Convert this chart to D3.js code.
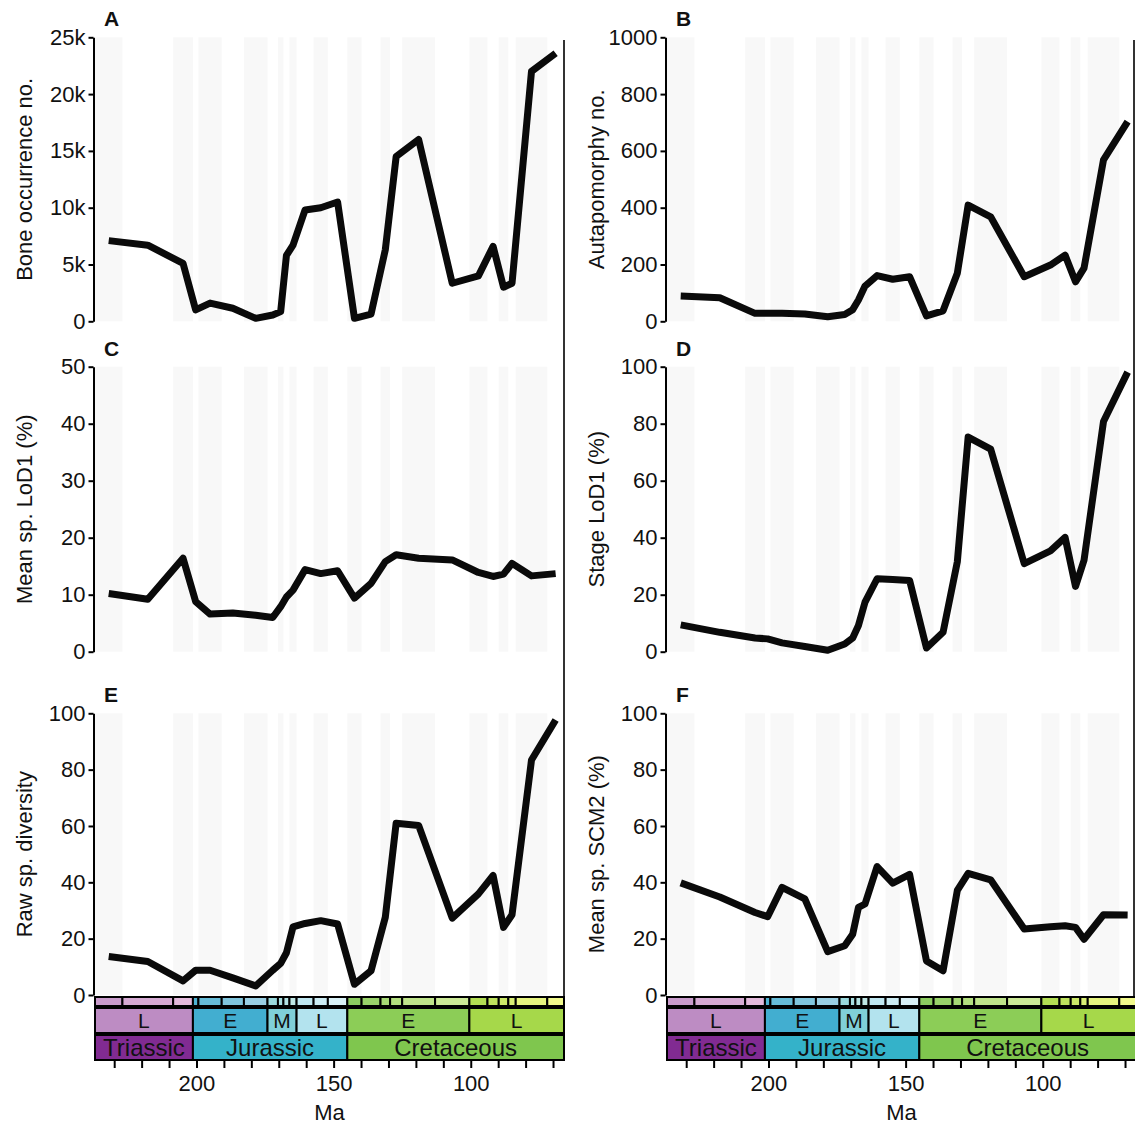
<!DOCTYPE html>
<html>
<head>
<meta charset="utf-8">
<script src="https://cdn.jsdelivr.net/npm/d3@7"></script>
<style>
  body { margin: 0; background: #fff; }
  text { font-family: "Liberation Sans", Arial, sans-serif; fill: #111; }
</style>
</head>
<body>
<svg id="fig" width="1135" height="1126"></svg>
<script>
// stages, Late Triassic to end Cretaceous (Ma, older boundary first)
var stageNames = ["Carnian","Norian","Rhaetian","Hettangian","Sinemurian","Pliensbachian","Toarcian",
  "Aalenian","Bajocian","Bathonian","Callovian","Oxfordian","Kimmeridgian","Tithonian",
  "Berriasian","Valanginian","Hauterivian","Barremian","Aptian","Albian",
  "Cenomanian","Turonian","Coniacian","Santonian","Campanian","Maastrichtian"];
var stageBounds = [237, 227, 208.5, 201.3, 199.3, 190.8, 182.7, 174.1, 170.3, 168.3, 166.1, 163.5,
  157.3, 152.1, 145, 139.8, 132.9, 129.4, 125, 113, 100.5, 93.9, 89.8, 86.3, 83.6, 72.1, 66];
var stageColors = ["#C99BCB","#D6AAD3","#E3B9DB","#4EB3D3","#67BCD8","#80C5DD","#99CEE3",
  "#9AD9DD","#A6DDE0","#B3E2E3","#BFE7E5","#BFE7F1","#CCECF4","#D9F1F7",
  "#8CCD60","#99D36A","#A6D975","#B3DF7F","#BFE48A","#CCEA97",
  "#B3DE53","#BFE35D","#CCE968","#D9EF74","#E6F47F","#F2FA8C"];

var epochNames = ["L","E","M","L","E","L"];
var epochBounds = [237, 201.3, 174.1, 163.5, 145, 100.5, 66];
var epochColors = ["#BD8CC3","#42AED0","#80CFD8","#B3E3EE","#8CCD57","#A6D84A"];

var periodNames = ["Triassic","Jurassic","Cretaceous"];
var periodBounds = [237, 201.3, 145, 66];
var periodColors = ["#812B92","#34B2C9","#7FC64E"];

var maTicks = [230, 220, 210, 200, 190, 180, 170, 160, 150, 140, 130, 120, 110, 100, 90, 80, 70];
var maLabels = [200, 150, 100];

// one value per stage (plotted at stage midpoint)
var boneOccurrences = [7100, 6700, 5100, 1000, 1600, 1150, 260, 550, 850, 5800, 6700, 9800, 10000, 10500,
  260, 640, 6300, 14500, 16000, 3350, 4000, 6600, 3000, 3350, 22000, 23600];
var autapomorphies = [89, 83, 28, 28, 28, 26, 16, 24, 41, 75, 124, 161, 148, 157,
  19, 37, 169, 409, 368, 157, 198, 233, 139, 187, 568, 703];
var meanSpLoD1 = [10.2, 9.2, 16.4, 8.8, 6.6, 6.8, 6.4, 6.0, 7.9, 9.6, 10.8, 14.4, 13.7, 14.2,
  9.4, 12.0, 15.8, 17.0, 16.4, 16.1, 13.9, 13.2, 13.6, 15.5, 13.3, 13.7];
var stageLoD1 = [9.4, 6.8, 4.8, 4.5, 3.1, 1.8, 0.5, 2.7, 4.8, 9.2, 17.4, 25.6, 25.3, 25.0,
  1.3, 6.8, 31.5, 75.3, 71.1, 30.9, 35.4, 40.1, 22.9, 32.1, 80.8, 98.1];
var rawSpDiversity = [13.7, 11.9, 5.0, 8.8, 8.8, 6.1, 3.2, 8.8, 11.2, 15.0, 24.2, 25.4, 26.4, 25.2,
  3.8, 8.6, 27.6, 61.0, 60.2, 27.3, 35.9, 42.4, 24.0, 28.5, 83.4, 97.6];
var meanSpSCM2 = [39.8, 34.8, 29.3, 27.8, 38.2, 34.1, 15.4, 17.5, 21.6, 31.1, 32.3, 45.6, 39.7, 42.8,
  12.1, 8.6, 37.1, 43.2, 40.9, 23.4, 24.2, 24.6, 24.0, 19.8, 28.5, 28.4];

var stageMid = stageNames.map(function(d, i) { return (stageBounds[i] + stageBounds[i + 1]) / 2; });

var svg = d3.select("#fig");

var cols = [{x0: 95, x1: 564, border: 564}, {x0: 667, x1: 1136, border: 1134}];
var rows = [{top: 37.3, bottom: 321.3}, {top: 366.7, bottom: 651.7}, {top: 713.3, bottom: 995}];

var kFormat = function(d) { return d === 0 ? "0" : (d / 1000) + "k"; };

var panels = [
  {letter: "A", title: "Bone occurrence no.", values: boneOccurrences, max: 25000, step: 5000, fmt: kFormat, col: 0, row: 0},
  {letter: "B", title: "Autapomorphy no.", values: autapomorphies, max: 1000, step: 200, col: 1, row: 0},
  {letter: "C", title: "Mean sp. LoD1 (%)", values: meanSpLoD1, max: 50, step: 10, col: 0, row: 1},
  {letter: "D", title: "Stage LoD1 (%)", values: stageLoD1, max: 100, step: 20, col: 1, row: 1},
  {letter: "E", title: "Raw sp. diversity", values: rawSpDiversity, max: 100, step: 20, col: 0, row: 2},
  {letter: "F", title: "Mean sp. SCM2 (%)", values: meanSpSCM2, max: 100, step: 20, col: 1, row: 2}
];

var tsTop = 997;

// border lines down the right side of each column
cols.forEach(function(c) {
  svg.append("line")
    .attr("x1", c.border).attr("x2", c.border)
    .attr("y1", 40).attr("y2", tsTop)
    .attr("stroke", "#333").attr("stroke-width", 2);
});

panels.forEach(function(p) {
  var c = cols[p.col], r = rows[p.row];
  var x = d3.scaleLinear().domain([237, 66]).range([c.x0, c.x1]);
  var y = d3.scaleLinear().domain([0, p.max]).range([r.bottom, r.top]);
  var g = svg.append("g");

  // alternating stage shading
  g.selectAll("rect.band")
    .data(stageNames.filter(function(d, i) { return i % 2 === 0; }))
    .enter().append("rect")
      .attr("class", "band")
      .attr("x", function(d) { return x(stageBounds[stageNames.indexOf(d)]); })
      .attr("width", function(d) { var i = stageNames.indexOf(d); return x(stageBounds[i + 1]) - x(stageBounds[i]); })
      .attr("y", r.top)
      .attr("height", r.bottom - r.top)
      .attr("fill", "#f8f8f8");

  var line = d3.line()
    .x(function(d, i) { return x(stageMid[i]); })
    .y(function(d) { return y(d); });

  g.append("path")
    .datum(p.values)
    .attr("d", line)
    .attr("fill", "none")
    .attr("stroke", "#0a0a0a")
    .attr("stroke-width", 7)
    .attr("stroke-linejoin", "round")
    .attr("stroke-linecap", "butt");

  var yAxis = d3.axisLeft(y)
    .tickValues(d3.range(0, p.max + 1, p.step))
    .tickFormat(p.fmt || function(d) { return d; })
    .tickSize(5).tickSizeOuter(0).tickPadding(3);

  var ag = g.append("g")
    .attr("transform", "translate(" + (c.x0 - 1.5) + ",0)")
    .call(yAxis);
  ag.select(".domain").attr("stroke", "#000").attr("stroke-width", 2);
  ag.selectAll(".tick line").attr("stroke", "#000").attr("stroke-width", 2);
  ag.selectAll(".tick text")
    .attr("font-size", 22)
    .attr("font-family", "'Liberation Sans', Arial, sans-serif")
    .attr("fill", "#111");

  g.append("text")
    .attr("transform", "translate(" + (c.x0 - 71) + "," + ((r.top + r.bottom) / 2) + ") rotate(-90)")
    .attr("text-anchor", "middle")
    .attr("dy", "0.35em")
    .attr("font-size", 22)
    .text(p.title);

  g.append("text")
    .attr("x", c.x0 + 9)
    .attr("y", r.top - 11)
    .attr("font-size", 21)
    .attr("font-weight", "bold")
    .text(p.letter);
});

// geological timescale under the bottom row
cols.forEach(function(c) {
  var x = d3.scaleLinear().domain([237, 66]).range([c.x0, c.x1]);
  var ts = svg.append("g");

  ts.selectAll("rect.stage")
    .data(stageNames)
    .enter().append("rect")
      .attr("x", function(d, i) { return x(stageBounds[i]); })
      .attr("width", function(d, i) { return x(stageBounds[i + 1]) - x(stageBounds[i]); })
      .attr("y", tsTop).attr("height", 9)
      .attr("fill", function(d, i) { return stageColors[i]; })
      .attr("stroke", "#000").attr("stroke-width", 2);

  ts.selectAll("rect.epoch")
    .data(epochNames)
    .enter().append("rect")
      .attr("x", function(d, i) { return x(epochBounds[i]); })
      .attr("width", function(d, i) { return x(epochBounds[i + 1]) - x(epochBounds[i]); })
      .attr("y", tsTop + 11).attr("height", 25)
      .attr("fill", function(d, i) { return epochColors[i]; })
      .attr("stroke", "#000").attr("stroke-width", 2);

  ts.selectAll("text.epoch")
    .data(epochNames)
    .enter().append("text")
      .attr("x", function(d, i) { return (x(epochBounds[i]) + x(epochBounds[i + 1])) / 2; })
      .attr("y", tsTop + 23.5)
      .attr("dy", "0.36em")
      .attr("text-anchor", "middle")
      .attr("font-size", 21)
      .text(function(d) { return d; });

  ts.selectAll("rect.period")
    .data(periodNames)
    .enter().append("rect")
      .attr("x", function(d, i) { return x(periodBounds[i]); })
      .attr("width", function(d, i) { return x(periodBounds[i + 1]) - x(periodBounds[i]); })
      .attr("y", tsTop + 38).attr("height", 25)
      .attr("fill", function(d, i) { return periodColors[i]; })
      .attr("stroke", "#000").attr("stroke-width", 2);

  ts.selectAll("text.period")
    .data(periodNames)
    .enter().append("text")
      .attr("x", function(d, i) { return (x(periodBounds[i]) + x(periodBounds[i + 1])) / 2; })
      .attr("y", tsTop + 50.5)
      .attr("dy", "0.36em")
      .attr("text-anchor", "middle")
      .attr("font-size", 24)
      .text(function(d) { return d; });

  var xAxis = d3.axisBottom(x)
    .tickValues(maTicks)
    .tickFormat(function(d) { return maLabels.indexOf(d) >= 0 ? d : ""; })
    .tickSize(7).tickPadding(7);

  var xg = ts.append("g")
    .attr("transform", "translate(0," + (tsTop + 64) + ")")
    .call(xAxis);
  xg.select(".domain").remove();
  xg.selectAll(".tick line").attr("stroke", "#000").attr("stroke-width", 2);
  xg.selectAll(".tick text")
    .attr("font-size", 22)
    .attr("font-family", "'Liberation Sans', Arial, sans-serif")
    .attr("fill", "#111");

  ts.append("text")
    .attr("x", (c.x0 + c.x1) / 2)
    .attr("y", 1120)
    .attr("text-anchor", "middle")
    .attr("font-size", 22)
    .text("Ma");
});
</script>
</body>
</html>
